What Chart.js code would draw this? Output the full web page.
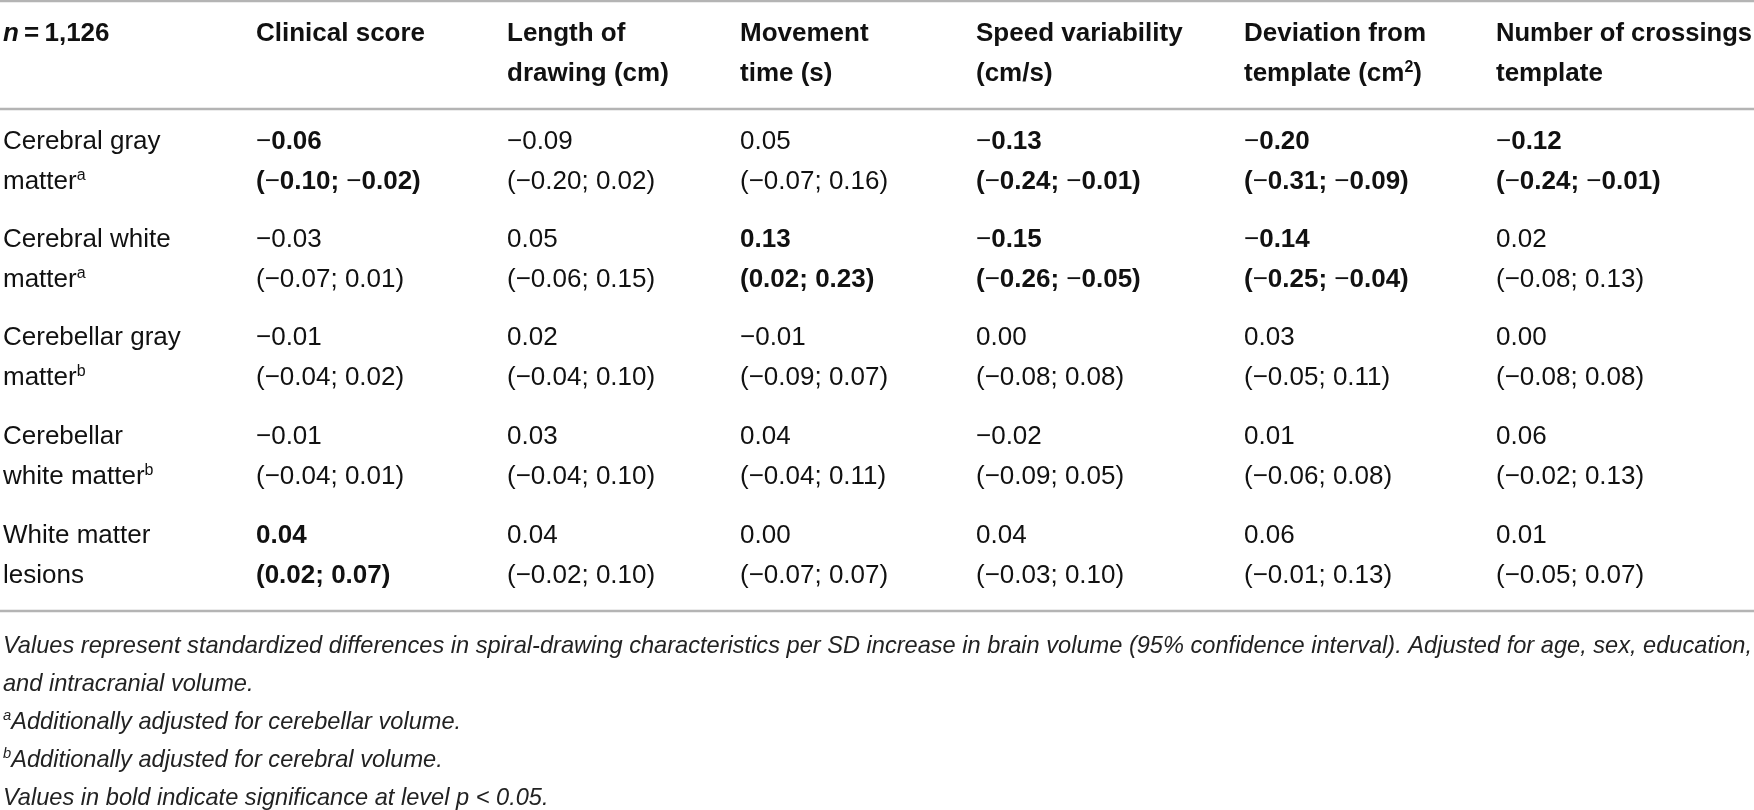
<!DOCTYPE html>
<html>
<head>
<meta charset="utf-8">
<script src="https://cdn.jsdelivr.net/npm/chart.js@4.4.1/dist/chart.umd.min.js"></script>
<style>
  html, body { margin: 0; padding: 0; background: #fff; }
  #wrap { width: 1754px; height: 810px; position: relative; }
</style>
</head>
<body>
<div id="wrap"><canvas id="tabla"></canvas></div>
<script>
// Datos de la tabla
const headers = [
    ['n = 1,126'],
    ['Clinical score'],
    ['Length of', 'drawing (cm)'],
    ['Movement', 'time (s)'],
    ['Speed variability', '(cm/s)'],
    ['Deviation from', 'template (cm²)'],
    ['Number of crossings', 'template']
];
const rowLabels = [
    ['Cerebral gray', 'matter'],
    ['Cerebral white', 'matter'],
    ['Cerebellar gray', 'matter'],
    ['Cerebellar', 'white matter'],
    ['White matter', 'lesions']
];
const rowNotes = ['a', 'a', 'b', 'b', ''];

// estimacion, IC bajo, IC alto, significativo (una lista por columna)
const clinicalEst = [-0.06, -0.03, -0.01, -0.01, 0.04];
const clinicalLo  = [-0.10, -0.07, -0.04, -0.04, 0.02];
const clinicalHi  = [-0.02, 0.01, 0.02, 0.01, 0.07];
const clinicalSig = [true, false, false, false, true];

const lengthEst = [-0.09, 0.05, 0.02, 0.03, 0.04];
const lengthLo  = [-0.20, -0.06, -0.04, -0.04, -0.02];
const lengthHi  = [0.02, 0.15, 0.10, 0.10, 0.10];
const lengthSig = [false, false, false, false, false];

const movementEst = [0.05, 0.13, -0.01, 0.04, 0.00];
const movementLo  = [-0.07, 0.02, -0.09, -0.04, -0.07];
const movementHi  = [0.16, 0.23, 0.07, 0.11, 0.07];
const movementSig = [false, true, false, false, false];

const speedEst = [-0.13, -0.15, 0.00, -0.02, 0.04];
const speedLo  = [-0.24, -0.26, -0.08, -0.09, -0.03];
const speedHi  = [-0.01, -0.05, 0.08, 0.05, 0.10];
const speedSig = [true, true, false, false, false];

const deviationEst = [-0.20, -0.14, 0.03, 0.01, 0.06];
const deviationLo  = [-0.31, -0.25, -0.05, -0.06, -0.01];
const deviationHi  = [-0.09, -0.04, 0.11, 0.08, 0.13];
const deviationSig = [true, true, false, false, false];

const crossingsEst = [-0.12, 0.02, 0.00, 0.06, 0.01];
const crossingsLo  = [-0.24, -0.08, -0.08, -0.02, -0.05];
const crossingsHi  = [-0.01, 0.13, 0.08, 0.13, 0.07];
const crossingsSig = [true, false, false, false, false];

const footnotes = [
    [{ t: 'Values represent standardized differences in spiral-drawing characteristics per SD increase in brain volume (95% confidence interval). Adjusted for age, sex, education,' }],
    [{ t: 'and intracranial volume.' }],
    [{ t: 'a', sup: true }, { t: 'Additionally adjusted for cerebellar volume.' }],
    [{ t: 'b', sup: true }, { t: 'Additionally adjusted for cerebral volume.' }],
    [{ t: 'Values in bold indicate significance at level p < 0.05.' }]
];

const columns = [
    { est: clinicalEst, lo: clinicalLo, hi: clinicalHi, sig: clinicalSig },
    { est: lengthEst, lo: lengthLo, hi: lengthHi, sig: lengthSig },
    { est: movementEst, lo: movementLo, hi: movementHi, sig: movementSig },
    { est: speedEst, lo: speedLo, hi: speedHi, sig: speedSig },
    { est: deviationEst, lo: deviationLo, hi: deviationHi, sig: deviationSig },
    { est: crossingsEst, lo: crossingsLo, hi: crossingsHi, sig: crossingsSig }
];

// Disposicion (en unidades de las escalas, que cubren el lienzo)
const W = 1754, H = 810;
const colLeft = [3, 256, 507, 740, 976, 1244, 1496];
const headerBase = [41, 81];
const rowBase = [149, 247, 345, 444, 543];
const lineGap = 40;
const rules = [1, 109, 611];
const footBase = [653, 691, 729, 767, 805];

const FONT = "'Liberation Sans', Arial, sans-serif";
const SIZE = 26;
const FOOT_SIZE = 24;
const TEXT = '#111111';
const RULE = '#b4b4b4';

function fmt(v, bold) {
    const s = Math.abs(v).toFixed(2);
    if (v < 0) return [{ t: '\u2212', bold: false }, { t: s, bold: bold }];
    return [{ t: s, bold: bold }];
}

function runsWidth(ctx, runs, size, italicAll) {
    let w = 0;
    for (const r of runs) {
        const fs = r.sup ? Math.round(size * 0.62) : size;
        const it = (italicAll || r.italic) ? 'italic ' : '';
        ctx.font = `${it}${r.bold ? 'bold ' : ''}${fs}px ${FONT}`;
        w += ctx.measureText(r.t).width;
    }
    return w;
}

function drawRuns(ctx, x, y, runs, size, italicAll) {
    for (const r of runs) {
        const fs = r.sup ? Math.round(size * 0.62) : size;
        const it = (italicAll || r.italic) ? 'italic ' : '';
        ctx.font = `${it}${r.bold ? 'bold ' : ''}${fs}px ${FONT}`;
        const dy = r.sup ? -size * 0.36 : 0;
        ctx.fillText(r.t, x, y + dy);
        x += ctx.measureText(r.t).width;
    }
    return x;
}

// Plugin que dibuja la tabla
const tablePlugin = {
    id: 'tablePlugin',
    afterDatasetsDraw(chart) {
        const ctx = chart.ctx;
        const xs = chart.scales.x, ys = chart.scales.y;
        ctx.save();
        ctx.textBaseline = 'alphabetic';
        ctx.textAlign = 'left';

        // lineas
        ctx.strokeStyle = RULE;
        ctx.lineWidth = 2.5;
        rules.forEach(r => {
            const py = ys.getPixelForValue(r);
            ctx.beginPath();
            ctx.moveTo(xs.getPixelForValue(0), py);
            ctx.lineTo(xs.getPixelForValue(W), py);
            ctx.stroke();
        });

        ctx.fillStyle = TEXT;

        // encabezados
        const rightEdge = xs.getPixelForValue(W - 2);
        headers.forEach((lines, c) => {
            const px = xs.getPixelForValue(colLeft[c]);
            lines.forEach((line, i) => {
                const py = ys.getPixelForValue(headerBase[i]);
                let runs;
                if (c === 0) {
                    runs = [{ t: 'n', bold: true, italic: true }, { t: '\u2009=\u20091,126', bold: true }];
                } else if (line.indexOf('²') >= 0) {
                    runs = [{ t: line.replace('²)', ''), bold: true }, { t: '2', bold: true, sup: true }, { t: ')', bold: true }];
                } else {
                    runs = [{ t: line, bold: true }];
                }
                const w = runsWidth(ctx, runs, SIZE, false);
                const k = Math.min(1, (rightEdge - px) / w);
                ctx.save();
                ctx.translate(px, py);
                ctx.scale(k, 1);
                drawRuns(ctx, 0, 0, runs, SIZE, false);
                ctx.restore();
            });
        });

        // etiquetas de filas
        rowLabels.forEach((lines, r) => {
            const px = xs.getPixelForValue(colLeft[0]);
            lines.forEach((line, i) => {
                const py = ys.getPixelForValue(rowBase[r] + i * lineGap);
                const runs = [{ t: line }];
                if (i === lines.length - 1 && rowNotes[r]) runs.push({ t: rowNotes[r], sup: true });
                drawRuns(ctx, px, py, runs, SIZE, false);
            });
        });

        // celdas: se leen de los puntos de cada dataset
        chart.data.datasets.forEach((ds, c) => {
            const meta = chart.getDatasetMeta(c);
            const col = columns[c];
            meta.data.forEach((pt, r) => {
                const b = col.sig[r];
                drawRuns(ctx, pt.x, pt.y, fmt(col.est[r], b), SIZE, false);
                const ci = [{ t: '(', bold: b }]
                    .concat(fmt(col.lo[r], b))
                    .concat([{ t: '; ', bold: b }])
                    .concat(fmt(col.hi[r], b))
                    .concat([{ t: ')', bold: b }]);
                const py2 = ys.getPixelForValue(rowBase[r] + lineGap);
                drawRuns(ctx, pt.x, py2, ci, SIZE, false);
            });
        });

        // notas al pie (cursiva condensada)
        ctx.fillStyle = '#222222';
        ctx.font = `italic ${FOOT_SIZE}px ${FONT}`;
        const full = ctx.measureText(footnotes[0][0].t).width;
        const target = xs.getPixelForValue(1752) - xs.getPixelForValue(3);
        const sx = target / full;
        footnotes.forEach((runs, i) => {
            const px = xs.getPixelForValue(3);
            const py = ys.getPixelForValue(footBase[i]);
            ctx.save();
            ctx.translate(px, py);
            ctx.scale(sx, 1);
            drawRuns(ctx, 0, 0, runs, FOOT_SIZE, true);
            ctx.restore();
        });

        ctx.restore();
    }
};

const datasets = columns.map((col, c) => ({
    label: headers[c + 1].join(' '),
    data: col.est.map((v, r) => ({ x: colLeft[c + 1], y: rowBase[r] })),
    pointRadius: 0,
    pointHoverRadius: 0,
    showLine: false
}));

new Chart(document.getElementById('tabla').getContext('2d'), {
    type: 'scatter',
    data: { datasets: datasets },
    options: {
        responsive: true,
        maintainAspectRatio: false,
        animation: false,
        layout: { padding: 0 },
        plugins: {
            legend: { display: false },
            tooltip: { enabled: false }
        },
        scales: {
            x: { type: 'linear', display: false, min: 0, max: W },
            y: { type: 'linear', display: false, min: 0, max: H, reverse: true }
        }
    },
    plugins: [tablePlugin]
});
</script>
</body>
</html>
